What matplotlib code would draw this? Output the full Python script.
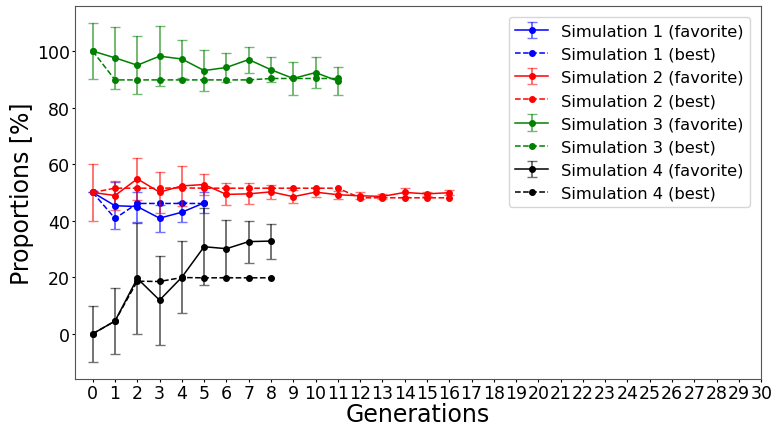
import matplotlib
matplotlib.use("Agg")
import matplotlib.pyplot as plt
import numpy as np

# Simulation 1
gen1 = [0, 1, 2, 3, 4, 5]
fav1 = [50.0, 45.3, 45.0, 40.9, 43.0, 46.3]
err1 = [0.0, 8.4, 5.3, 4.8, 3.6, 3.7]
best1 = [50.0, 40.8, 46.1, 46.1, 46.1, 46.1]

# Simulation 2
gen2 = list(range(17))
fav2 = [50.0, 48.9, 54.8, 50.1, 52.3, 52.8, 49.3, 49.5, 50.2, 48.5, 50.1,
        49.2, 48.8, 48.6, 50.0, 49.5, 49.9]
err2 = [10.0, 5.0, 7.5, 7.2, 7.1, 3.8, 3.9, 3.7, 2.4, 2.3, 1.6,
        1.4, 1.2, 1.0, 1.7, 0.8, 0.8]
best2 = [50.0, 51.5, 51.5, 51.5, 51.6, 51.5, 51.5, 51.5, 51.5, 51.5, 51.5,
         51.5, 48.1, 48.1, 48.1, 48.1, 48.1]

# Simulation 3
gen3 = list(range(12))
fav3 = [100.0, 97.6, 95.0, 98.2, 97.2, 93.1, 94.2, 97.0, 93.4, 90.3, 92.4, 89.4]
err3 = [10.0, 11.0, 10.3, 10.6, 6.7, 7.3, 5.1, 4.6, 4.4, 5.7, 5.6, 5.0]
best3 = [100.0, 89.8, 89.8, 89.8, 89.8, 89.8, 89.8, 89.8, 90.3, 90.3, 90.3, 90.3]

# Simulation 4
gen4 = list(range(9))
fav4 = [0.0, 4.5, 19.6, 11.9, 20.0, 30.8, 30.1, 32.6, 32.8]
err4 = [10.0, 11.6, 19.6, 15.7, 12.8, 13.7, 10.0, 7.4, 6.2]
best4 = [0.0, 4.5, 18.6, 18.5, 19.9, 19.8, 19.8, 19.8, 19.8]

sims = [
    (gen1, fav1, err1, best1, "blue", "Simulation 1"),
    (gen2, fav2, err2, best2, "red", "Simulation 2"),
    (gen3, fav3, err3, best3, "green", "Simulation 3"),
    (gen4, fav4, err4, best4, "black", "Simulation 4"),
]

fig, ax = plt.subplots(figsize=(7.72, 4.27), dpi=100)
fig.subplots_adjust(left=0.097, right=0.986, top=0.984, bottom=0.11)

handles = []
for gen, fav, err, best, col, name in sims:
    h1 = ax.errorbar(gen, fav, yerr=err, color=col, marker="o", markersize=4,
                     linewidth=1.1, capsize=3.5, elinewidth=1.4,
                     ecolor=matplotlib.colors.to_rgba(col, 0.55),
                     label=name + " (favorite)")
    h2, = ax.plot(gen, best, color=col, linestyle="--", marker="o", markersize=4,
                  linewidth=1.1, label=name + " (best)")
    handles += [h1, h2]

ax.set_xticks(range(31))
ax.set_xlim(-0.8, 30)
ax.tick_params(labelsize=12.5, length=2, pad=1.5)
for s in ax.spines.values():
    s.set_color("#555555")
ax.set_xlabel("Generations", fontsize=17, labelpad=0)
ax.set_ylabel("Proportions [%]", fontsize=17, labelpad=2)
ax.legend(handles=handles, loc="upper right", fontsize=11.7,
          borderaxespad=0.7)

fig.savefig("out.png", dpi=100)
